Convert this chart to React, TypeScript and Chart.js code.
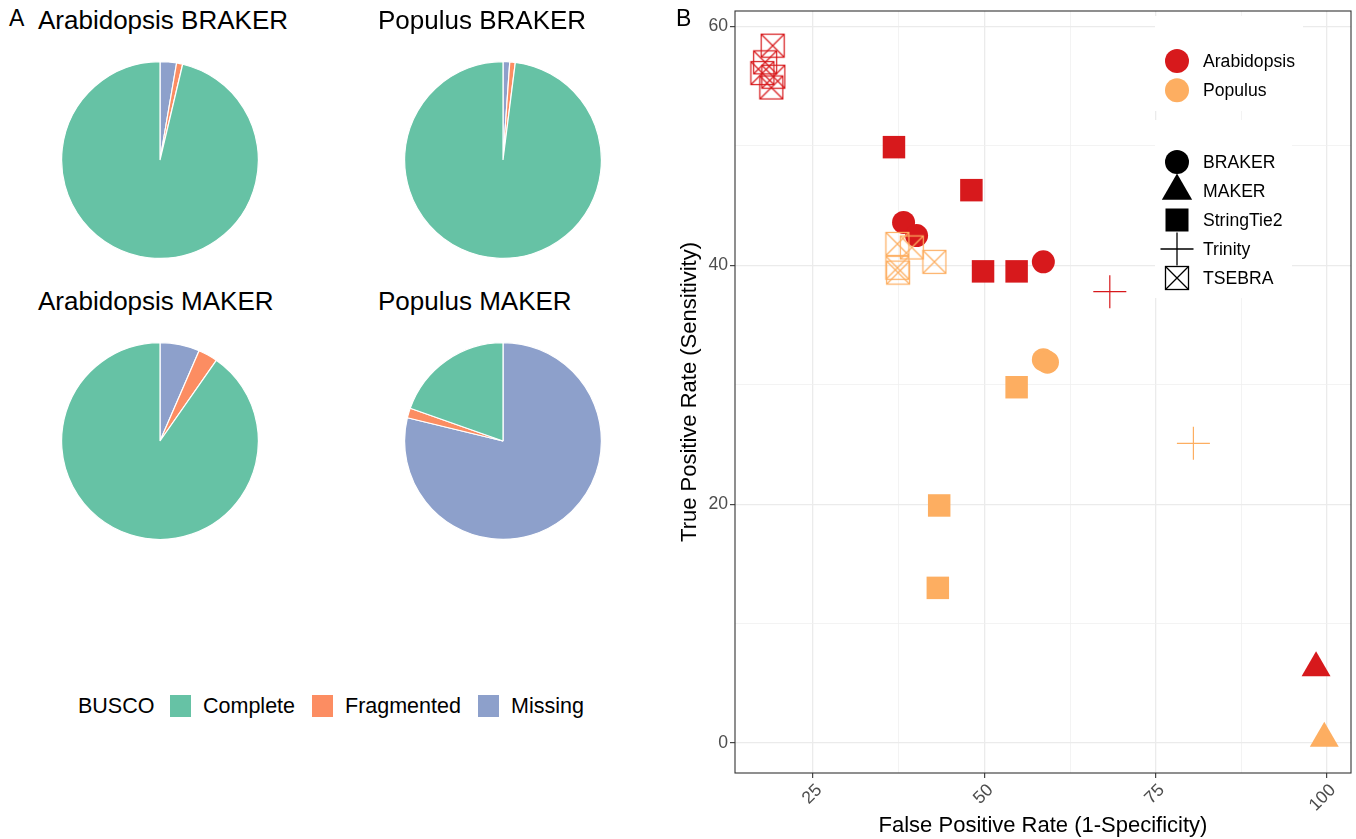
import React, { useEffect, useRef } from 'react';
import { Chart, registerables } from 'chart.js';

Chart.register(...registerables);

const FONT = '"Liberation Sans", Arial, Helvetica, sans-serif';
Chart.defaults.font.family = FONT;

// ---------- Panel A: BUSCO pies ----------
const buscoCategories = ['Missing', 'Fragmented', 'Complete'];
const buscoColors = ['#8DA0CB', '#FC8D62', '#66C2A5'];
const buscoLegendOrder = ['Complete', 'Fragmented', 'Missing'];
const arabidopsisBraker = [2.7, 1.0, 96.3];
const populusBraker = [1.1, 0.9, 98.0];
const arabidopsisMaker = [6.5, 3.2, 90.3];
const populusMaker = [78.8, 1.6, 19.6];

// ---------- Panel B: ROC-like scatter ----------
const species = ['Arabidopsis', 'Populus'];
const speciesColors = ['#D7191C', '#FDAE61'];
const methods = ['BRAKER', 'MAKER', 'StringTie2', 'Trinity', 'TSEBRA'];

const arabBraker = [{ x: 38.2, y: 43.6 }, { x: 40.1, y: 42.5 }, { x: 58.6, y: 40.3 }];
const arabMaker = [{ x: 98.4, y: 6.3 }];
const arabStringTie2 = [{ x: 36.8, y: 49.9 }, { x: 48.1, y: 46.3 }, { x: 49.8, y: 39.5 }, { x: 54.7, y: 39.5 }];
const arabTrinity = [{ x: 68.3, y: 37.8 }];
const arabTsebra = [{ x: 19.1, y: 58.4 }, { x: 18.0, y: 57.0 }, { x: 17.6, y: 56.1 }, { x: 19.2, y: 55.8 }, { x: 18.9, y: 54.9 }];

const popBraker = [{ x: 58.6, y: 32.1 }, { x: 59.2, y: 31.9 }];
const popMaker = [{ x: 99.6, y: 0.4 }];
const popStringTie2 = [{ x: 54.7, y: 29.8 }, { x: 43.4, y: 19.9 }, { x: 43.2, y: 13.0 }];
const popTrinity = [{ x: 80.5, y: 25.1 }];
const popTsebra = [{ x: 37.3, y: 41.8 }, { x: 39.4, y: 41.5 }, { x: 42.7, y: 40.3 }, { x: 37.3, y: 39.8 }, { x: 37.4, y: 39.4 }];

const xMajor = [25, 50, 75, 100];
const xMinor = [37.5, 62.5, 87.5];
const yMajor = [0, 20, 40, 60];
const yMinor = [10, 30, 50];

const xTitle = 'False Positive Rate (1-Specificity)';
const yTitle = 'True Positive Rate (Sensitivity)';

const seriesTable = [
  { sp: 0, method: 'BRAKER', pts: arabBraker },
  { sp: 0, method: 'MAKER', pts: arabMaker },
  { sp: 0, method: 'StringTie2', pts: arabStringTie2 },
  { sp: 0, method: 'Trinity', pts: arabTrinity },
  { sp: 0, method: 'TSEBRA', pts: arabTsebra },
  { sp: 1, method: 'BRAKER', pts: popBraker },
  { sp: 1, method: 'MAKER', pts: popMaker },
  { sp: 1, method: 'StringTie2', pts: popStringTie2 },
  { sp: 1, method: 'Trinity', pts: popTrinity },
  { sp: 1, method: 'TSEBRA', pts: popTsebra },
];

function makeBoxX(color: string) {
  const cv = document.createElement('canvas');
  cv.width = 26;
  cv.height = 26;
  const c = cv.getContext('2d')!;
  c.strokeStyle = color;
  c.lineWidth = 1.2;
  c.strokeRect(1.5, 1.5, 23, 23);
  c.beginPath();
  c.moveTo(1.5, 1.5);
  c.lineTo(24.5, 24.5);
  c.moveTo(24.5, 1.5);
  c.lineTo(1.5, 24.5);
  c.stroke();
  return cv;
}

function pointOpts(method: string, color: string): any {
  const filled = { pointBackgroundColor: color, pointBorderColor: color, pointBorderWidth: 0, backgroundColor: color, borderColor: color };
  switch (method) {
    case 'BRAKER':
      return { ...filled, pointStyle: 'circle', pointRadius: 11.5 };
    case 'MAKER':
      return { ...filled, pointStyle: 'triangle', pointRadius: 16.7 };
    case 'StringTie2':
      return { ...filled, pointStyle: 'rect', pointRadius: 15.9 };
    case 'Trinity':
      return { pointStyle: 'cross', pointRadius: 16.5, pointBorderColor: color, borderColor: color, pointBorderWidth: 1.2, pointBackgroundColor: color };
    default:
      return { pointStyle: makeBoxX(color), pointRadius: 12, pointBorderWidth: 0, borderColor: color, backgroundColor: color };
  }
}

function drawKeyShape(c: CanvasRenderingContext2D, method: string, x: number, y: number) {
  c.fillStyle = '#000';
  c.strokeStyle = '#000';
  c.lineWidth = 1.3;
  if (method === 'BRAKER') {
    c.beginPath();
    c.arc(x, y, 12, 0, Math.PI * 2);
    c.fill();
  } else if (method === 'MAKER') {
    const r = 17.5;
    c.beginPath();
    c.moveTo(x, y - r);
    c.lineTo(x + r * 0.866, y + r / 2);
    c.lineTo(x - r * 0.866, y + r / 2);
    c.closePath();
    c.fill();
  } else if (method === 'StringTie2') {
    c.fillRect(x - 11.5, y - 11.5, 23, 23);
  } else if (method === 'Trinity') {
    c.beginPath();
    c.moveTo(x - 16.5, y);
    c.lineTo(x + 16.5, y);
    c.moveTo(x, y - 16.5);
    c.lineTo(x, y + 16.5);
    c.stroke();
  } else {
    c.strokeRect(x - 11.5, y - 11.5, 23, 23);
    c.beginPath();
    c.moveTo(x - 11.5, y - 11.5);
    c.lineTo(x + 11.5, y + 11.5);
    c.moveTo(x + 11.5, y - 11.5);
    c.lineTo(x - 11.5, y + 11.5);
    c.stroke();
  }
}

const ggPlugin = {
  id: 'ggDecor',
  afterDraw(chart: any) {
    const c: CanvasRenderingContext2D = chart.ctx;
    const a = chart.chartArea;
    c.save();
    // panel border
    c.strokeStyle = '#333333';
    c.lineWidth = 1.1;
    c.strokeRect(a.left, a.top, a.right - a.left, a.bottom - a.top);
    // legend boxes
    c.fillStyle = '#ffffff';
    c.fillRect(479, 16, 148, 95);
    c.fillRect(479, 120, 137, 178);
    c.font = `17.6px ${FONT}`;
    c.textBaseline = 'middle';
    c.textAlign = 'left';
    const kx = 501;
    const tx = 527;
    species.forEach((s, i) => {
      const y = 61 + i * 29.3;
      c.fillStyle = speciesColors[i];
      c.beginPath();
      c.arc(kx, y, 12, 0, Math.PI * 2);
      c.fill();
      c.fillStyle = '#000';
      c.fillText(s, tx, y + 1);
    });
    methods.forEach((m, i) => {
      const y = 162 + i * 29;
      drawKeyShape(c, m, kx, y);
      c.fillStyle = '#000';
      c.fillText(m, tx, y + 1);
    });
    c.restore();
  },
};

function zeroPad(axis: any) {
  axis.paddingTop = 0;
  axis.paddingBottom = 0;
  axis.paddingLeft = 0;
  axis.paddingRight = 0;
}

function PieChart({ values, left, top }: { values: number[]; left: number; top: number }) {
  const ref = useRef<HTMLCanvasElement>(null);
  useEffect(() => {
    const chart = new Chart(ref.current!, {
      type: 'pie',
      data: {
        labels: buscoCategories,
        datasets: [{ data: values, backgroundColor: buscoColors, borderColor: '#ffffff', borderWidth: 1.2 }],
      },
      options: {
        responsive: false,
        animation: false,
        events: [],
        layout: { padding: 0 },
        plugins: { legend: { display: false }, tooltip: { enabled: false } },
      },
    });
    return () => chart.destroy();
  }, [values]);
  return <canvas ref={ref} width={198} height={198} style={{ position: 'absolute', left, top }} />;
}

function Scatter() {
  const ref = useRef<HTMLCanvasElement>(null);
  useEffect(() => {
    const datasets = seriesTable.map((s) => ({
      label: `${species[s.sp]} ${s.method}`,
      data: s.pts,
      order: s.sp === 0 ? 1 : 0,
      showLine: false,
      ...pointOpts(s.method, speciesColors[s.sp]),
    }));
    const isMajorX = (v: number) => xMajor.includes(v);
    const isMajorY = (v: number) => yMajor.includes(v);
    const chart = new Chart(ref.current!, {
      type: 'scatter',
      data: { datasets },
      options: {
        responsive: false,
        animation: false,
        events: [],
        layout: { autoPadding: false, padding: { top: 11, right: 5, bottom: 0, left: 0 } },
        plugins: { legend: { display: false }, tooltip: { enabled: false } },
        scales: {
          x: {
            type: 'linear',
            min: 13.6,
            max: 103.5,
            afterBuildTicks: (axis: any) => {
              axis.ticks = [...xMajor, ...xMinor].sort((p, q) => p - q).map((v) => ({ value: v }));
            },
            afterFit: (axis: any) => {
              axis.height = 66;
              zeroPad(axis);
            },
            ticks: {
              autoSkip: false,
              minRotation: 45,
              maxRotation: 45,
              labelOffset: 6,
              padding: 2,
              color: '#4D4D4D',
              font: { size: 17.6, family: FONT },
              callback: (v: any) => (isMajorX(v) ? String(v) : ''),
            },
            grid: {
              color: (c: any) => (c.tick && isMajorX(c.tick.value) ? '#EBEBEB' : '#F0F0F0'),
              lineWidth: (c: any) => (c.tick && isMajorX(c.tick.value) ? 1.3 : 0.8),
              tickColor: (c: any) => (c.tick && isMajorX(c.tick.value) ? '#333333' : 'rgba(0,0,0,0)'),
              tickLength: 5,
              tickWidth: 1.1,
              drawTicks: true,
            },
            border: { display: false },
            title: { display: true, text: xTitle, color: '#000', font: { size: 22, family: FONT }, padding: { top: 0, bottom: 0 } },
          },
          y: {
            type: 'linear',
            min: -2.5,
            max: 61.3,
            afterBuildTicks: (axis: any) => {
              axis.ticks = [...yMajor, ...yMinor].sort((p, q) => p - q).map((v) => ({ value: v }));
            },
            afterFit: (axis: any) => {
              axis.width = 59;
              zeroPad(axis);
            },
            ticks: {
              autoSkip: false,
              padding: 2,
              color: '#4D4D4D',
              font: { size: 17.6, family: FONT },
              callback: (v: any) => (isMajorY(v) ? String(v) : ''),
            },
            grid: {
              color: (c: any) => (c.tick && isMajorY(c.tick.value) ? '#EBEBEB' : '#F0F0F0'),
              lineWidth: (c: any) => (c.tick && isMajorY(c.tick.value) ? 1.3 : 0.8),
              tickColor: (c: any) => (c.tick && isMajorY(c.tick.value) ? '#333333' : 'rgba(0,0,0,0)'),
              tickLength: 5,
              tickWidth: 1.1,
              drawTicks: true,
            },
            border: { display: false },
            title: { display: true, text: yTitle, color: '#000', font: { size: 22, family: FONT }, padding: { top: 1, bottom: 0 } },
          },
        },
      },
      plugins: [ggPlugin],
    });
    return () => chart.destroy();
  }, []);
  return <canvas ref={ref} width={680} height={839} style={{ position: 'absolute', left: 676, top: 0 }} />;
}

const textBase: React.CSSProperties = { position: 'absolute', whiteSpace: 'nowrap', color: '#000', lineHeight: 1 };

export default function App() {
  const legendKeyLeft = [170, 312, 478];
  const legendTextLeft = [203, 345, 511];
  return (
    <div
      style={{
        position: 'absolute',
        left: 0,
        top: 0,
        width: 1356,
        height: 839,
        background: '#fff',
        overflow: 'hidden',
        fontFamily: FONT,
      }}
    >
      <PieChart values={arabidopsisBraker} left={61} top={61} />
      <PieChart values={populusBraker} left={404} top={61} />
      <PieChart values={arabidopsisMaker} left={61} top={342} />
      <PieChart values={populusMaker} left={404} top={342} />
      <Scatter />

      <div style={{ ...textBase, left: 9, top: 7, fontSize: 23 }}>A</div>
      <div style={{ ...textBase, left: 676, top: 7, fontSize: 23 }}>B</div>

      <div style={{ ...textBase, left: 38, top: 7, fontSize: 26 }}>Arabidopsis BRAKER</div>
      <div style={{ ...textBase, left: 378, top: 7, fontSize: 26 }}>Populus BRAKER</div>
      <div style={{ ...textBase, left: 38, top: 288, fontSize: 26 }}>Arabidopsis MAKER</div>
      <div style={{ ...textBase, left: 378, top: 288, fontSize: 26 }}>Populus MAKER</div>

      <div style={{ ...textBase, left: 78, top: 695, height: 22, lineHeight: '22px', fontSize: 21.5 }}>BUSCO</div>
      {buscoLegendOrder.map((name, i) => (
        <React.Fragment key={name}>
          <div
            style={{
              position: 'absolute',
              left: legendKeyLeft[i],
              top: 695,
              width: 21,
              height: 22,
              background: buscoColors[buscoCategories.indexOf(name)],
            }}
          />
          <div style={{ ...textBase, left: legendTextLeft[i], top: 695, height: 22, lineHeight: '22px', fontSize: 21.5 }}>{name}</div>
        </React.Fragment>
      ))}
    </div>
  );
}
